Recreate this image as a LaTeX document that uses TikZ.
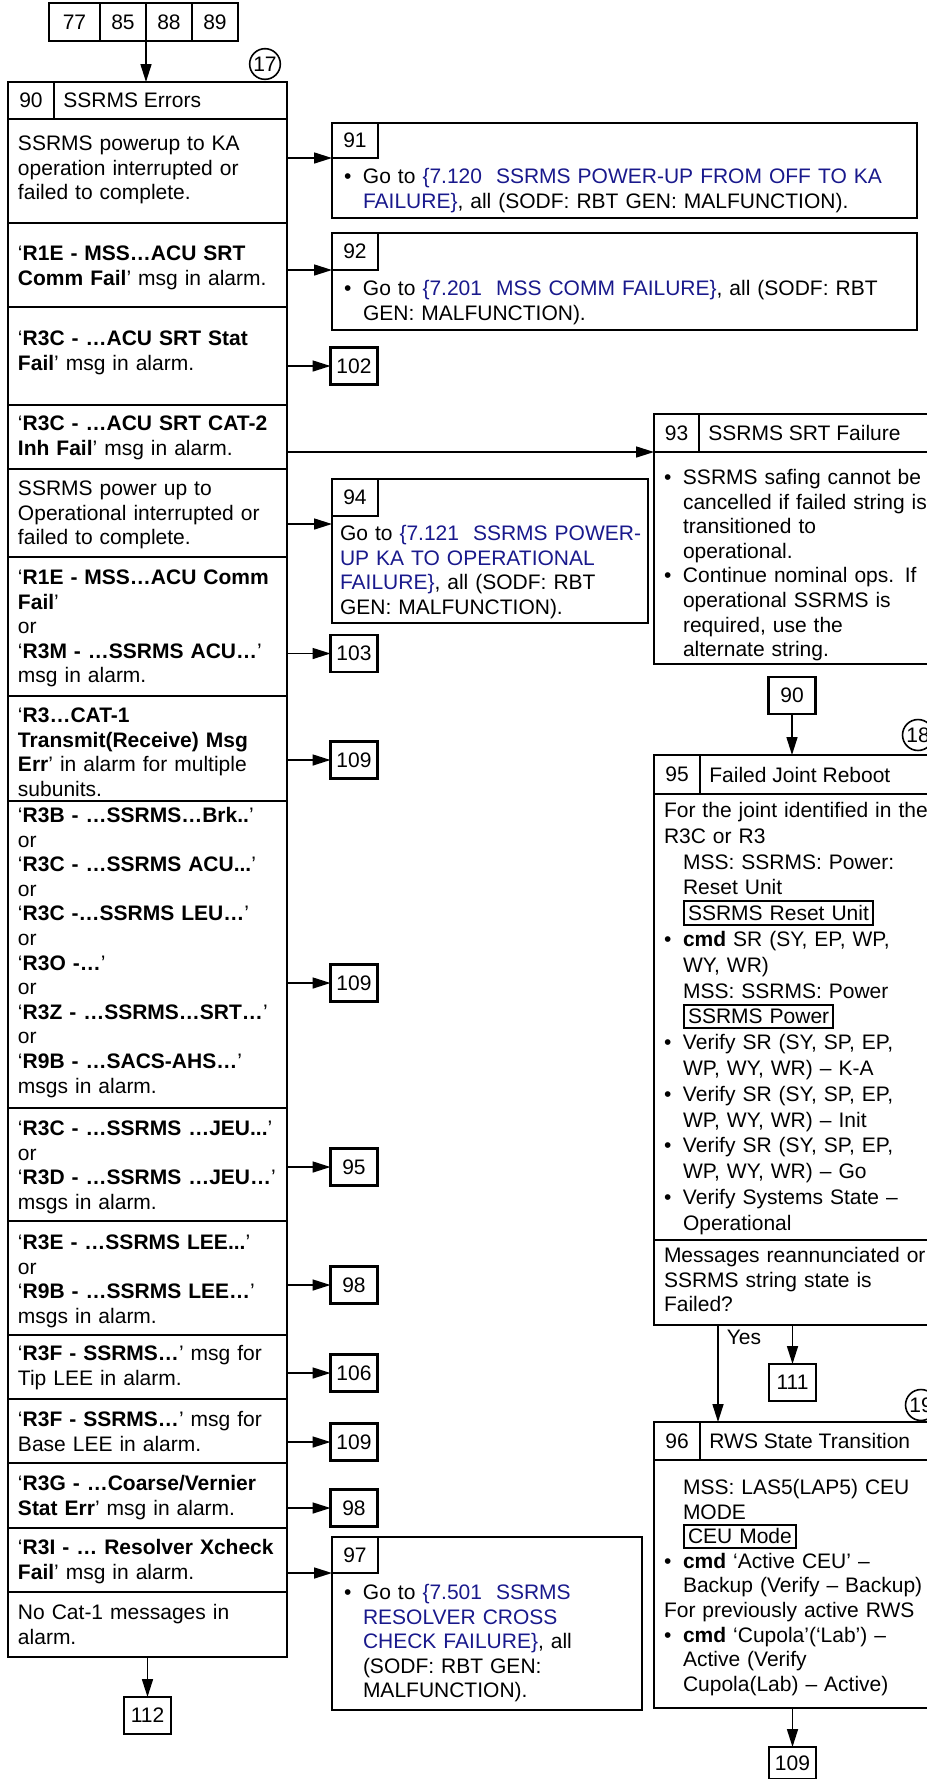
\documentclass[tikz,border=0pt]{standalone}
\usepackage{fontspec}
\setmainfont{Liberation Sans}
\usetikzlibrary{arrows.meta, positioning}
\definecolor{linkblue}{RGB}{25,25,140}
\newcommand{\fs}{\fontsize{10.5pt}{12.3pt}\selectfont}
\newcommand{\fsw}{\fontsize{10.5pt}{12.9pt}\selectfont}
\newcommand{\bul}{\makebox[9.5pt][l]{\textbullet}}
\newcommand{\ind}{\hspace*{9.5pt}}
\newcommand{\lnk}[1]{\textcolor{linkblue}{#1}}
\setlength{\fboxsep}{1.5pt}
\setlength{\fboxrule}{1pt}
\tikzset{
  box/.style={draw, line width=1.1pt, inner sep=0pt, outer sep=0pt, anchor=north west, font=\fs},
  rowbox/.style={box, text width=129.5pt, inner xsep=5pt, align=left},
  gobox/.style={box, inner xsep=6pt, align=left},
  tagbox/.style={box, minimum width=23pt, minimum height=#1},
  tagbox/.default=18.5pt,
  refbox/.style={draw, line width=1.1pt, inner sep=0pt, outer sep=0pt, minimum width=23.5pt, minimum height=18.5pt, font=\fs},
  arr/.style={line width=0.8pt, -{Triangle[length=9pt, width=5.5pt]}},
  sheet/.style={circle, draw, line width=0.8pt, inner sep=0.6pt, font=\fs},
}
\begin{document}
\begin{tikzpicture}[x=0.5pt, y=-0.5pt]
  \useasboundingbox (0,0) rectangle (927,1779);

  % Entry references
  \node[refbox, anchor=north west, minimum width=25.5pt, minimum height=19pt] (c77) at (49,3) {77};
  \node[refbox, minimum height=19pt, minimum width=23pt, right=0pt of c77] (c85) {85};
  \node[refbox, minimum height=19pt, minimum width=23pt, right=0pt of c85] (c88) {88};
  \node[refbox, minimum height=19pt, minimum width=23pt, right=0pt of c88] (c89) {89};
  \node[sheet] (s17) at (265,64) {17};

  % Block 90: error table
  \node[box, minimum width=139.5pt, minimum height=18.5pt] (hdr) at (8,82) {};
  \node[tagbox] (t90) at (hdr.north west) {90};
  \node[right=4.5pt of t90, inner sep=0pt, font=\fs] (ttl90) {SSRMS Errors};

  \node[rowbox, text height=15.75pt, text depth=36.25pt] (r1) at (hdr.south west)
    {SSRMS powerup to KA\\operation interrupted or\\failed to complete.};
  \node[rowbox, text height=18.75pt, text depth=23.25pt] (r2) at (r1.south west)
    {‘\textbf{R1E - MSS…ACU SRT}\\\textbf{Comm Fail}’ msg in alarm.};
  \node[rowbox, text height=19.25pt, text depth=29.75pt] (r3) at (r2.south west)
    {‘\textbf{R3C - …ACU SRT Stat}\\\textbf{Fail}’ msg in alarm.};
  \node[rowbox, text height=12.75pt, text depth=19.25pt] (r4) at (r3.south west)
    {‘\textbf{R3C - …ACU SRT CAT-2}\\\textbf{Inh Fail}’ msg in alarm.};
  \node[rowbox, text height=13.25pt, text depth=30.75pt] (r5) at (r4.south west)
    {SSRMS power up to\\Operational interrupted or\\failed to complete.};
  \node[rowbox, text height=13.75pt, text depth=55.75pt] (r6) at (r5.south west)
    {‘\textbf{R1E - MSS…ACU Comm}\\\textbf{Fail}’\\or\\‘\textbf{R3M - …SSRMS ACU…}’\\msg in alarm.};
  \node[rowbox, text height=13.25pt, text depth=39.25pt] (r7) at (r6.south west)
    {‘\textbf{R3…CAT-1}\\\textbf{Transmit(Receive) Msg}\\\textbf{Err}’ in alarm for multiple\\subunits.};
  \node[rowbox, text height=10.75pt, text depth=142.75pt] (r8) at (r7.south west)
    {‘\textbf{R3B - …SSRMS…Brk..}’\\or\\‘\textbf{R3C - …SSRMS ACU...}’\\or\\‘\textbf{R3C -…SSRMS LEU…}’\\or\\‘\textbf{R3O -…}’\\or\\‘\textbf{R3Z - …SSRMS…SRT…}’\\or\\‘\textbf{R9B - …SACS-AHS…}’\\msgs in alarm.};
  \node[rowbox, text height=13.75pt, text depth=42.75pt] (r9) at (r8.south west)
    {‘\textbf{R3C - …SSRMS …JEU...}’\\or\\‘\textbf{R3D - …SSRMS …JEU…}’\\msgs in alarm.};
  \node[rowbox, text height=14.25pt, text depth=42.75pt] (r10) at (r9.south west)
    {‘\textbf{R3E - …SSRMS LEE...}’\\or\\‘\textbf{R9B - …SSRMS LEE…}’\\msgs in alarm.};
  \node[rowbox, text height=12.75pt, text depth=19.25pt] (r11) at (r10.south west)
    {‘\textbf{R3F - SSRMS…}’ msg for\\Tip LEE in alarm.};
  \node[rowbox, text height=13.75pt, text depth=18.25pt] (r12) at (r11.south west)
    {‘\textbf{R3F - SSRMS…}’ msg for\\Base LEE in alarm.};
  \node[rowbox, text height=13.75pt, text depth=18.75pt] (r13) at (r12.south west)
    {‘\textbf{R3G - …Coarse/Vernier}\\\textbf{Stat Err}’ msg in alarm.};
  \node[rowbox, text height=13.25pt, text depth=18.75pt] (r14) at (r13.south west)
    {‘\textbf{R3I - … Resolver Xcheck}\\\textbf{Fail}’ msg in alarm.};
  \node[rowbox, text height=13.75pt, text depth=18.75pt] (r15) at (r14.south west)
    {No Cat-1 messages in\\alarm.};

  % Goto blocks
  \node[gobox, text width=280.5pt, text height=30.25pt, text depth=17.25pt] (b91) at (332,123)
    {\bul Go to \lnk{\{7.120\ \ SSRMS POWER-UP FROM OFF TO KA}\\ \ind\lnk{FAILURE\}}, all (SODF: RBT GEN: MALFUNCTION).};
  \node[tagbox=17.5pt] (t91) at (b91.north west) {91};
  \node[gobox, text width=280.5pt, text height=31.25pt, text depth=17.25pt] (b92) at (332,233)
    {\bul Go to \lnk{\{7.201\ \ MSS COMM FAILURE\}}, all (SODF: RBT\\ \ind GEN: MALFUNCTION).};
  \node[tagbox] (t92) at (b92.north west) {92};
  \node[gobox, inner xsep=4pt, text width=150pt, text height=30.75pt, text depth=41.25pt] (b94) at (332,479)
    {\mbox{Go to \lnk{\{7.121\ \ SSRMS POWER-}}\\\lnk{UP KA TO OPERATIONAL}\\\lnk{FAILURE\}}, all (SODF: RBT\\GEN: MALFUNCTION).};
  \node[tagbox] (t94) at (b94.north west) {94};
  \coordinate (in94) at ([yshift=-4pt]t94.south west);
  \node[gobox, text width=143pt, text height=31.25pt, text depth=55.25pt] (b97) at (332,1537)
    {\bul Go to \lnk{\{7.501\ \ SSRMS}\\ \ind\lnk{RESOLVER CROSS}\\ \ind\lnk{CHECK FAILURE\}}, all\\ \ind(SODF: RBT GEN:\\ \ind MALFUNCTION).};
  \node[tagbox=18pt] (t97) at (b97.north west) {97};

  % Off-page references
  \node[refbox] (n102) at (354,366) {102};
  \node[refbox] (n103) at (354,653.5) {103};
  \node[refbox] (n109a) at (354,760) {109};
  \node[refbox] (n109b) at (354,983) {109};
  \node[refbox] (n95) at (354,1167) {95};
  \node[refbox] (n98a) at (354,1285) {98};
  \node[refbox] (n106) at (354,1373) {106};
  \node[refbox] (n109c) at (354,1442) {109};
  \node[refbox] (n98b) at (354,1508) {98};
  \node[refbox] (n112) at (147.5,1715.5) {112};

  % Block 93
  \node[box, minimum width=144pt, minimum height=19pt] (h93) at (654,414) {};
  \node[tagbox=19pt, minimum width=22.5pt] (t93) at (h93.north west) {93};
  \node[right=4.5pt of t93, inner sep=0pt, font=\fs] (ttl93) {SSRMS SRT Failure};
  \node[box, text width=134pt, inner xsep=5pt, align=left, text height=16.25pt, text depth=89.75pt] (b93) at (h93.south west)
    {\bul SSRMS safing cannot be\\ \ind cancelled if failed string is\\ \ind transitioned to\\ \ind operational.\\ \bul Continue nominal ops. If\\ \ind operational SSRMS is\\ \ind required, use the\\ \ind alternate string.};
  \node[refbox] (n90) at (792,695.5) {90};

  % Block 95
  \node[sheet] (s18) at (918,735) {18};
  \node[box, minimum width=144pt, minimum height=19.5pt] (h95) at (654,755) {};
  \node[tagbox=19.5pt] (t95) at (h95.north west) {95};
  \node[right=4.5pt of t95, inner sep=0pt, font=\fs] (ttl95) {Failed Joint Reboot};
  \node[box, font=\fsw, text width=134pt, inner xsep=5pt, align=left, text height=11.75pt, text depth=211.25pt] (b95) at (h95.south west)
    {For the joint identified in the\\R3C or R3\\ \ind MSS: SSRMS: Power:\\ \ind Reset Unit\\ \ind\fbox{SSRMS Reset Unit}\\ \bul\textbf{cmd} SR (SY, EP, WP,\\ \ind WY, WR)\\ \ind MSS: SSRMS: Power\\ \ind\fbox{SSRMS Power}\\ \bul Verify SR (SY, SP, EP,\\ \ind WP, WY, WR) – K-A\\ \bul Verify SR (SY, SP, EP,\\ \ind WP, WY, WR) – Init\\ \bul Verify SR (SY, SP, EP,\\ \ind WP, WY, WR) – Go\\ \bul Verify Systems State –\\ \ind Operational};
  \node[box, text width=134pt, inner xsep=5pt, align=left, text height=11.25pt, text depth=31.25pt] (q95) at (b95.south west)
    {Messages reannunciated or\\SSRMS string state is\\Failed?};
  \node[refbox] (n111) at (792.5,1382.5) {111};

  % Block 96
  \node[sheet] (s19) at (921,1405) {19};
  \node[box, minimum width=144pt, minimum height=19pt] (h96) at (654,1422) {};
  \node[tagbox=19pt] (t96) at (h96.north west) {96};
  \node[right=4.5pt of t96, inner sep=0pt, font=\fs] (ttl96) {RWS State Transition};
  \node[box, text width=134pt, inner xsep=5pt, align=left, text height=17.25pt, text depth=106.75pt] (b96) at (h96.south west)
    {\ind MSS: LAS5(LAP5) CEU\\ \ind MODE\\ \ind\fbox{CEU Mode}\\ \bul\textbf{cmd} ‘Active CEU’ –\\ \ind Backup (Verify – Backup)\\For previously active RWS\\ \bul\textbf{cmd} ‘Cupola’(‘Lab’) –\\ \ind Active (Verify\\ \ind Cupola(Lab) – Active)};
  \node[refbox, minimum height=16pt] (n109d) at (792.5,1763) {109};

  % Connectors
  \draw[arr] (c88.south west) -- (c88.south west |- hdr.north);
  \draw[arr] (r1.east |- t91.south) -- (t91.south west);
  \draw[arr] (r2.east |- t92.south) -- (t92.south west);
  \draw[arr] (r3.east |- n102.west) -- (n102.west);
  \draw[arr] (r4.east |- t93.south) -- (t93.south west);
  \draw[arr] (r5.east |- in94) -- (in94);
  \draw[arr] (r6.east |- n103.west) -- (n103.west);
  \draw[arr] (r7.east |- n109a.west) -- (n109a.west);
  \draw[arr] (r8.east |- n109b.west) -- (n109b.west);
  \draw[arr] (r9.east |- n95.west) -- (n95.west);
  \draw[arr] (r10.east |- n98a.west) -- (n98a.west);
  \draw[arr] (r11.east |- n106.west) -- (n106.west);
  \draw[arr] (r12.east |- n109c.west) -- (n109c.west);
  \draw[arr] (r13.east |- n98b.west) -- (n98b.west);
  \draw[arr] (r14.east |- t97.south) -- (t97.south west);
  \draw[arr] (r15.south -| n112.north) -- (n112.north);
  \draw[arr] (n90.south) -- (n90.south |- h95.north);
  \draw[arr] ([xshift=32pt]q95.south west) -- ([xshift=32pt]h96.north west)
    node[pos=0, anchor=north west, inner xsep=4pt, inner ysep=2pt, font=\fs] (yes) {Yes};
  \draw[arr] (q95.south -| n111.north) -- (n111.north);
  \draw[arr] (b96.south -| n109d.north) -- (n109d.north);
\end{tikzpicture}
\end{document}
